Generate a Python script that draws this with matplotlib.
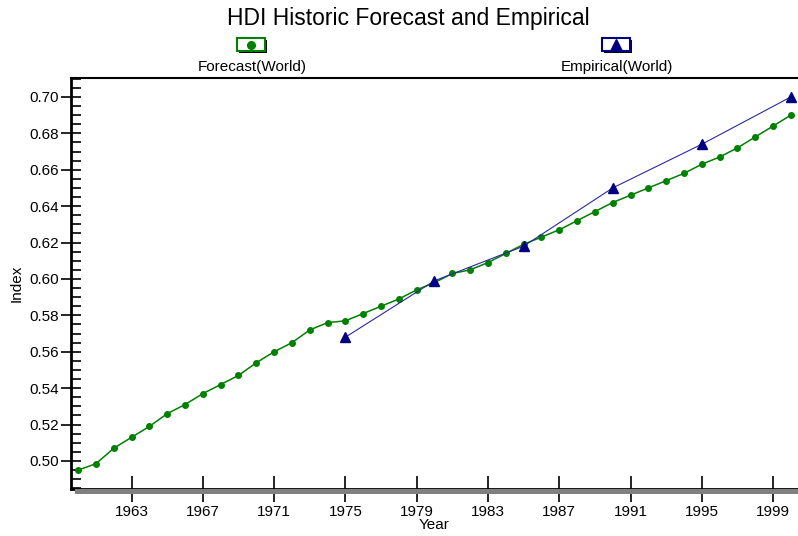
import matplotlib
matplotlib.use("Agg")
import matplotlib.pyplot as plt
from matplotlib.patches import Rectangle
from matplotlib.lines import Line2D
from matplotlib.ticker import MultipleLocator

plt.rcParams['font.family'] = ['Liberation Sans', 'DejaVu Sans']

# forecast (world) 1960-2000
years = list(range(1960, 2001))
forecast = [0.495, 0.4985, 0.507, 0.513, 0.519, 0.526, 0.531, 0.537, 0.542, 0.547,
            0.554, 0.560, 0.565, 0.572, 0.576, 0.577, 0.581, 0.585, 0.589, 0.594,
            0.598, 0.603, 0.605, 0.609, 0.614, 0.619, 0.623, 0.627, 0.632, 0.637,
            0.642, 0.646, 0.650, 0.654, 0.658, 0.663, 0.667, 0.672, 0.678, 0.684,
            0.690]

# empirical (world), every 5 years
emp_years = [1975, 1980, 1985, 1990, 1995, 2000]
empirical = [0.568, 0.599, 0.618, 0.650, 0.674, 0.700]

xticks = list(range(1963, 2000, 4))
yticks = [0.50, 0.52, 0.54, 0.56, 0.58, 0.60, 0.62, 0.64, 0.66, 0.68, 0.70]

fig = plt.figure(figsize=(7.98, 5.36), dpi=100)
W, H = 798, 536
ax = fig.add_axes([71 / W, 1 - 489 / H, (798 - 71) / W, (489 - 78) / H])

green = "#008000"
navy = "#000080"

ax.plot(years, forecast, color=green, lw=1.1, zorder=2)
ax.plot(years, forecast, ls="none", marker="o", ms=4, color=green, zorder=3)
ax.plot(emp_years, empirical, color="#2a2a9c", lw=0.8, zorder=4)
ax.plot(emp_years, empirical, ls="none", marker="^", ms=7, color=navy, zorder=5)

ax.set_xlim(1959.6, 2000.4)
ax.set_ylim(0.4846, 0.7104)
ax.set_xticks(xticks)
ax.set_yticks(yticks)
ax.set_yticklabels([f"{v:.2f}" for v in yticks])
ax.yaxis.set_minor_locator(MultipleLocator(0.005))

ax.tick_params(axis="x", which="major", direction="inout", length=19, width=1.2,
               labelsize=11, pad=2)
ax.tick_params(axis="y", which="major", direction="inout", length=14, width=1.2,
               labelsize=11, pad=2)
ax.tick_params(axis="y", which="minor", direction="in", length=7, width=1.2)

ax.spines["right"].set_visible(False)
ax.spines["left"].set_linewidth(2)
ax.spines["bottom"].set_linewidth(2)
ax.spines["top"].set_linewidth(1.5)
ax.spines["bottom"].set_zorder(6)

# gray shadow under the x axis
fig.patches.append(Rectangle((75 / W, 1 - 494 / H), (798 - 75) / W, 5 / H,
                             transform=fig.transFigure, facecolor="#808080",
                             edgecolor="none", zorder=0))

ax.set_xlabel("Year", fontsize=11, labelpad=-1)
ax.set_ylabel("Index", fontsize=11, labelpad=4)

fig.text(408 / W, 1 - 18 / H, "HDI Historic Forecast and Empirical",
         ha="center", va="center", fontsize=16.5)


def legend_item(cx, color, marker, ms, label):
    bx, by, bw, bh = cx - 15, 38, 28, 13
    # shadow
    fig.patches.append(Rectangle(((bx + 2) / W, 1 - (by + bh + 2) / H), bw / W, bh / H,
                                 transform=fig.transFigure, facecolor="black",
                                 edgecolor="none", zorder=1))
    fig.patches.append(Rectangle((bx / W, 1 - (by + bh) / H), bw / W, bh / H,
                                 transform=fig.transFigure, facecolor="white",
                                 edgecolor=color, lw=1.5, zorder=2))
    fig.add_artist(Line2D([(bx + bw / 2) / W], [1 - (by + bh / 2) / H], ls="none",
                          marker=marker, ms=ms, color=color,
                          transform=fig.transFigure, zorder=3))
    fig.text(cx / W, 1 - 67 / H, label, ha="center", va="center", fontsize=11)


legend_item(252, green, "o", 5.5, "Forecast(World)")
legend_item(617, navy, "^", 8.5, "Empirical(World)")

fig.savefig("out.png", dpi=100)
